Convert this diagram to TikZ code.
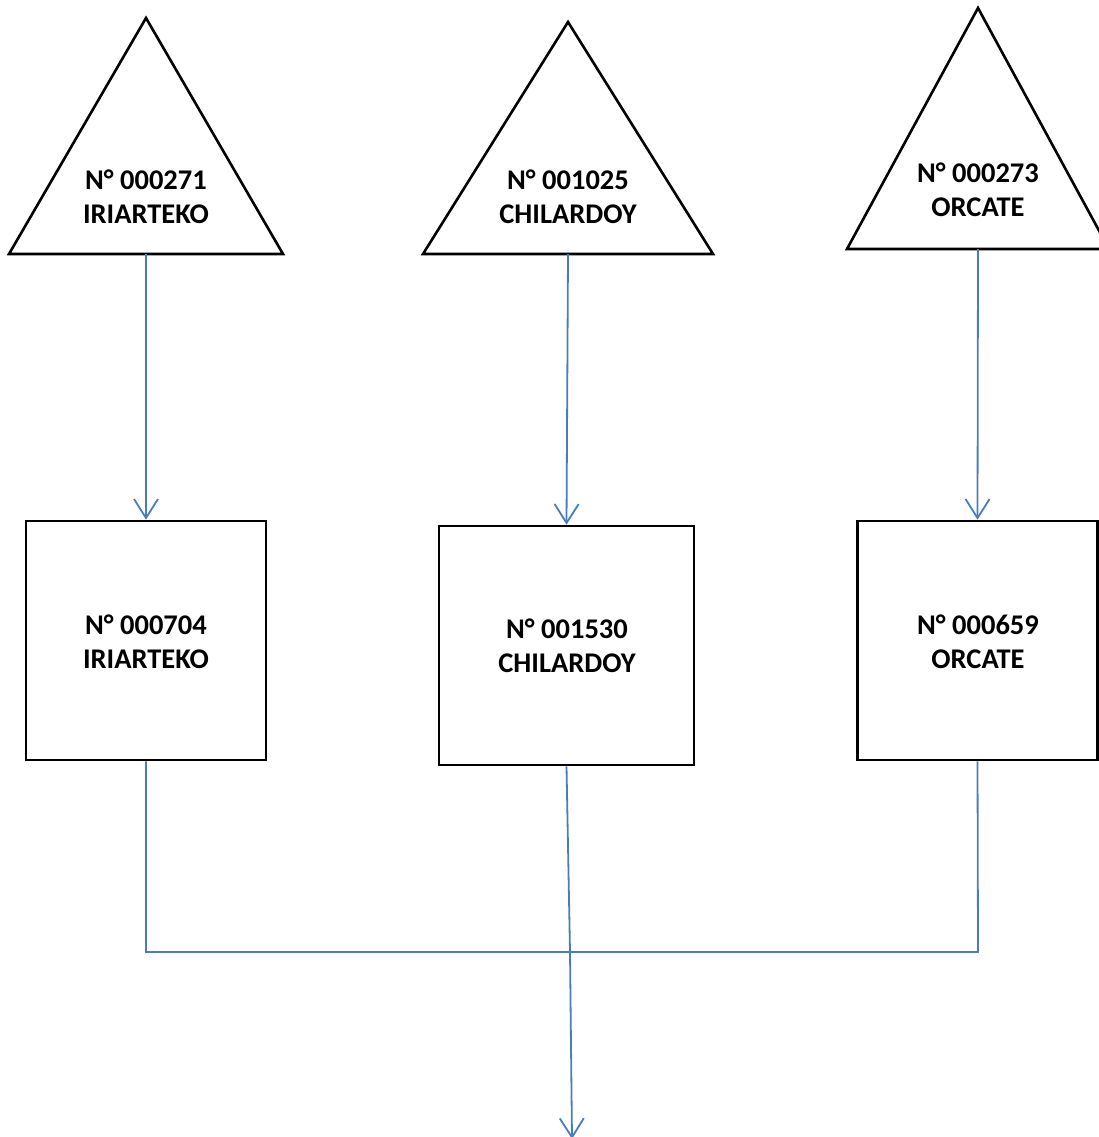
\documentclass[tikz,border=0pt]{standalone}
\usepackage{fontspec}
\setmainfont{Carlito}
\usetikzlibrary{arrows.meta}
\definecolor{flow}{HTML}{4A7EBB}
\begin{document}
\begin{tikzpicture}[x=1pt,y=-1pt,
  shapeline/.style={draw=black,line width=2.6pt,line join=miter},
  boxnode/.style={shapeline,minimum width=240pt,minimum height=239pt,inner sep=0pt,fill=white},
  label/.style={font=\fontsize{28.5}{34}\selectfont\bfseries,align=center,inner sep=0pt},
  flowline/.style={draw=flow,line width=1.8pt},
  flowarrow/.style={flowline,-{Straight Barb[length=19pt,width=24pt,line width=1.8pt]}}]
\useasboundingbox (0,0) rectangle (1098,1137);
% triangles
\draw[shapeline] (146,18) -- (283,254) -- (9,254) -- cycle;
\draw[shapeline] (568,22) -- (713,254) -- (423,254) -- cycle;
\draw[shapeline] (978,8) -- (1109,249) -- (847,249) -- cycle;
\coordinate (t1) at (146,254);
\coordinate (t2) at (568,254);
\coordinate (t3) at (978,249);
\node[label] (l1) at (146,197) {N° 000271\\IRIARTEKO};
\node[label] (l2) at (568,197) {N° 001025\\CHILARDOY};
\node[label] (l3) at (978,190) {N° 000273\\ORCATE};
% boxes
\node[boxnode] (b1) at (146,640.5) {};
\node[boxnode,minimum width=255pt] (b2) at (566.5,645.5) {};
\node[boxnode] (b3) at (977.5,640.5) {};
\node[label] (bl1) at (146,642) {N° 000704\\IRIARTEKO};
\node[label] (bl2) at (567,646) {N° 001530\\CHILARDOY};
\node[label] (bl3) at (978,642) {N° 000659\\ORCATE};
% arrows
\draw[flowarrow] (t1) -- (b1.north);
\draw[flowarrow] (t2) -- (b2.north);
\draw[flowarrow] (t3) -- (b3.north);
% collector
\coordinate (j1) at (146,952);
\coordinate (j3) at (978,952);
\coordinate (jm) at (570,952);
\coordinate (out) at (572,1139);
\draw[flowline] (b1.south) -- (j1) -- (j3) -- (b3.south);
\draw[flowline] (b2.south) -- (jm);
\draw[flowarrow] (jm) -- (out);
\end{tikzpicture}
\end{document}
